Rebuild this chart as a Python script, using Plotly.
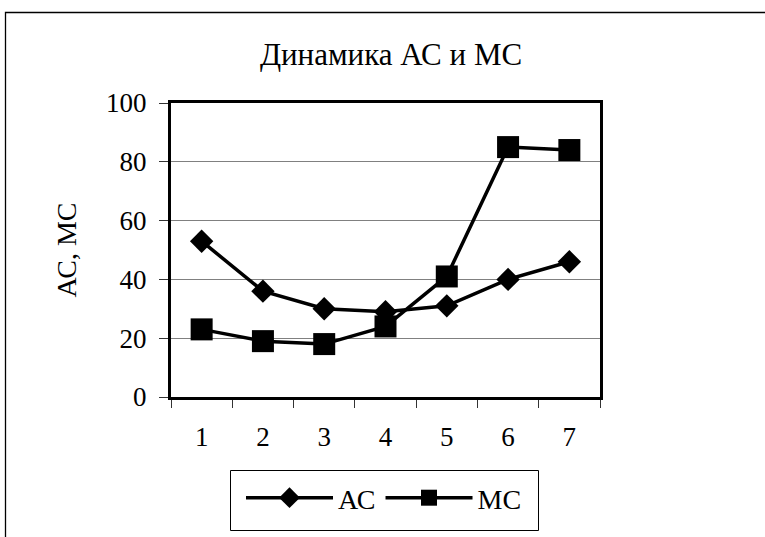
import plotly.graph_objects as go

# data
periods = ["1", "2", "3", "4", "5", "6", "7"]
ac_values = [53, 36, 30, 29, 31, 40, 46]
mc_values = [23, 19, 18, 24, 41, 85, 84]
y_ticks = [0, 20, 40, 60, 80, 100]

FONT = "Liberation Serif, Times New Roman, serif"

W, H = 765, 537
L, R, T, B = 171, 165, 103, 140
PLOT_W = W - L - R
PLOT_H = H - T - B


def px_x(px):
    # screen x -> paper fraction
    return (px - L) / PLOT_W


def px_y(py):
    # screen y -> paper fraction
    return 1 - (py - T) / PLOT_H


fig = go.Figure()

fig.add_trace(go.Scatter(
    x=periods, y=ac_values, name="АС", mode="lines+markers",
    line=dict(color="black", width=3.5),
    marker=dict(symbol="diamond", size=18, color="black"),
))
fig.add_trace(go.Scatter(
    x=periods, y=mc_values, name="МС", mode="lines+markers",
    line=dict(color="black", width=3.5),
    marker=dict(symbol="square", size=22, color="black"),
))

# outer chart border (right and bottom edges run off the page)
fig.add_shape(
    type="rect", xref="paper", yref="paper", layer="below",
    x0=px_x(5.5), x1=px_x(775), y0=px_y(545), y1=px_y(12.5),
    line=dict(color="black", width=1.3),
)
# legend frame
fig.add_shape(
    type="rect", xref="paper", yref="paper", layer="below",
    x0=px_x(230.5), x1=px_x(538.5), y0=px_y(530.5), y1=px_y(470.5),
    line=dict(color="black", width=1),
)

fig.update_layout(
    width=W, height=H,
    margin=dict(l=L, r=R, t=T, b=B),
    paper_bgcolor="white", plot_bgcolor="white",
    font=dict(family=FONT, size=27, color="black"),
    title=dict(text="Динамика АС и МС", x=391 / W, xanchor="center",
               y=1 - 54 / H, yanchor="middle", font=dict(size=31)),
    showlegend=True,
    legend=dict(
        orientation="h", x=px_x(384), xanchor="center",
        y=px_y(498), yanchor="middle",
        borderwidth=0, bgcolor="rgba(0,0,0,0)",
        font=dict(size=28), itemwidth=87,
    ),
)

fig.update_xaxes(
    type="category", range=[-0.5, 6.5],
    showline=True, mirror=True, linecolor="black", linewidth=3,
    showgrid=False, ticks="outside", tickson="boundaries",
    ticklen=8, tickwidth=1, tickcolor="#333",
    ticklabelstandoff=14,
)
fig.update_yaxes(
    range=[0, 100], tickvals=y_ticks,
    showline=True, mirror=True, linecolor="black", linewidth=3,
    showgrid=True, gridcolor="#808080", gridwidth=1,
    ticks="outside", ticklen=9, tickwidth=1, tickcolor="#333",
    ticklabelstandoff=7,
    title=dict(text="АС, МС", standoff=22, font=dict(size=28)),
    zeroline=False,
)

# drop the browser's default body margin so the figure sits at (0, 0)
fig.write_html(
    "out.html",
    config={"displayModeBar": False},
    post_script="document.body.style.margin = '0';",
)
